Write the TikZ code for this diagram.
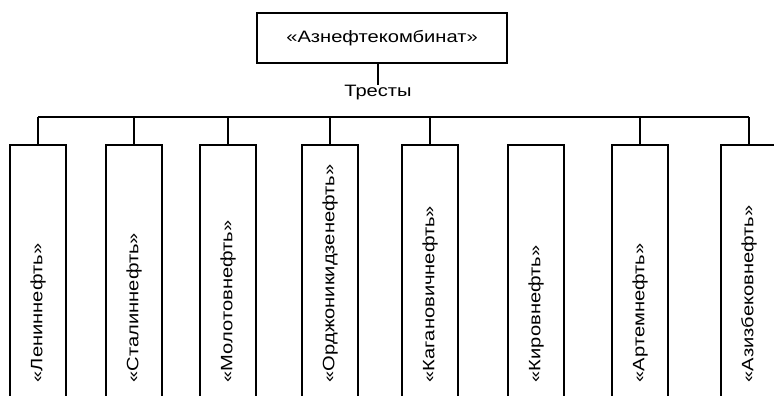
\documentclass[tikz,border=0pt]{standalone}
\usepackage{fontspec}
\setmainfont{Liberation Sans}[FakeStretch=1.22]
\begin{document}
\begin{tikzpicture}[x=1pt,y=-1pt,
  line width=1.6pt,
  every node/.style={font=\fontsize{16.5}{18}\selectfont},
  headbox/.style={draw, rectangle, minimum width=250pt, minimum height=50pt, inner sep=0pt},
  trustbox/.style={draw, rectangle, anchor=north, minimum width=56pt, minimum height=270pt, inner sep=0pt},
  trustlabel/.style={rotate=90, anchor=west, inner sep=0pt},
  plainlabel/.style={inner sep=0pt}]
\clip (0,0) rectangle (774,396);
\node[headbox] (top) at (382,38) {«Азнефтекомбинат»};
\node[plainlabel] (tr) at (378,93) {Тресты};
\draw (top.south -| tr.north) -- (tr.north);

\node[trustbox] (b1) at (38,144) {};
\node[trustbox] (b2) at (134,144) {};
\node[trustbox] (b3) at (228,144) {};
\node[trustbox] (b4) at (330,144) {};
\node[trustbox] (b5) at (430,144) {};
\node[trustbox] (b6) at (536,144) {};
\node[trustbox] (b7) at (640,144) {};
\node[trustbox] (b8) at (749,144) {};

\node[trustlabel] (t1) at (38,383) {«Лениннефть»};
\node[trustlabel] (t2) at (134,383) {«Сталиннефть»};
\node[trustlabel] (t3) at (228,383) {«Молотовнефть»};
\node[trustlabel] (t4) at (330,383) {«Орджоникидзенефть»};
\node[trustlabel] (t5) at (430,383) {«Кагановичнефть»};
\node[trustlabel] (t6) at (536,383) {«Кировнефть»};
\node[trustlabel] (t7) at (640,383) {«Артемнефть»};
\node[trustlabel] (t8) at (749,383) {«Азизбековнефть»};

\coordinate (busL) at (38,117);
\coordinate (busR) at (749,117);
\draw (busL) -- (busR);
\foreach \i in {1,2,3,4,5,7,8} {
  \draw (b\i.north) -- (b\i.north |- busL);
}
\end{tikzpicture}
\end{document}
